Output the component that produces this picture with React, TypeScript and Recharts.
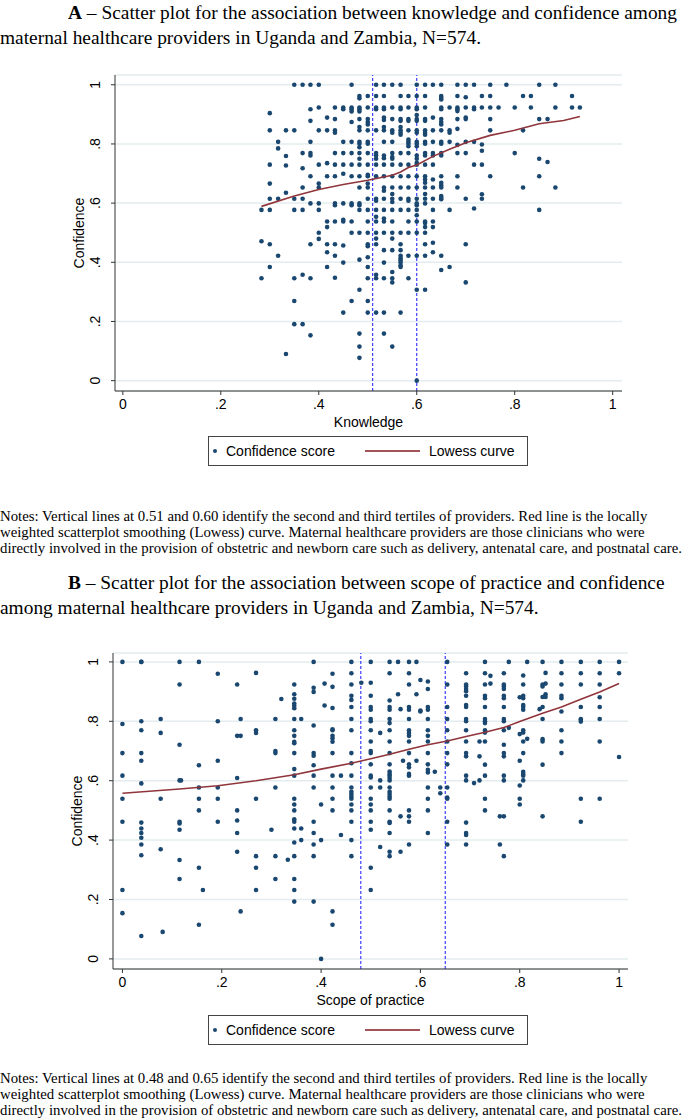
import React from "react";
import { ScatterChart, Scatter, XAxis, YAxis, CartesianGrid, ReferenceLine } from "recharts";

const axisTicks = [0, 0.2, 0.4, 0.6, 0.8, 1];

// Panel A: each entry is one knowledge score and the confidence scores plotted above it
const knowledgeColumns: [number, number[]][] = [
  [0.283, [0.577, 0.471, 0.346]],
  [0.3, [0.904, 0.846, 0.73, 0.666, 0.615, 0.577, 0.461, 0.384]],
  [0.317, [0.807, 0.785, 0.615, 0.422]],
  [0.333, [0.846, 0.759, 0.727, 0.635, 0.09]],
  [0.35, [1, 0.846, 0.615, 0.577, 0.346, 0.269, 0.191]],
  [0.367, [1, 0.769, 0.718, 0.653, 0.615, 0.577, 0.358, 0.191]],
  [0.383, [1, 0.917, 0.878, 0.807, 0.769, 0.761, 0.691, 0.599, 0.461, 0.346, 0.153]],
  [0.4, [1, 0.923, 0.846, 0.73, 0.666, 0.653, 0.599, 0.577, 0.5, 0.479]],
  [0.417, [0.889, 0.846, 0.735, 0.691, 0.538, 0.519, 0.461, 0.434, 0.384]],
  [0.433, [0.923, 0.884, 0.846, 0.838, 0.769, 0.73, 0.691, 0.599, 0.593, 0.538, 0.461, 0.422, 0.348]],
  [0.45, [0.923, 0.917, 0.807, 0.769, 0.73, 0.699, 0.599, 0.544, 0.538, 0.457, 0.399, 0.23]],
  [0.467, [1, 0.923, 0.917, 0.91, 0.874, 0.807, 0.769, 0.73, 0.691, 0.599, 0.593, 0.538, 0.5, 0.269]],
  [0.483, [0.962, 0.954, 0.923, 0.917, 0.91, 0.884, 0.857, 0.846, 0.807, 0.801, 0.789, 0.769, 0.75, 0.73, 0.691, 0.653, 0.599, 0.593, 0.577, 0.5, 0.409, 0.307, 0.159, 0.115, 0.077]],
  [0.5, [0.962, 0.923, 0.884, 0.874, 0.866, 0.846, 0.807, 0.801, 0.769, 0.73, 0.696, 0.691, 0.666, 0.653, 0.615, 0.577, 0.538, 0.5, 0.461, 0.454, 0.417, 0.384, 0.346, 0.269, 0.23]],
  [0.517, [1, 0.962, 0.923, 0.917, 0.846, 0.769, 0.761, 0.75, 0.73, 0.691, 0.615, 0.608, 0.577, 0.554, 0.538, 0.5, 0.48, 0.461, 0.358, 0.346, 0.23]],
  [0.533, [1, 0.962, 0.923, 0.917, 0.889, 0.881, 0.857, 0.846, 0.807, 0.761, 0.752, 0.73, 0.691, 0.653, 0.642, 0.615, 0.577, 0.548, 0.538, 0.5, 0.441, 0.399, 0.346, 0.23, 0.159]],
  [0.55, [1, 0.923, 0.884, 0.846, 0.838, 0.807, 0.769, 0.756, 0.75, 0.73, 0.691, 0.653, 0.631, 0.615, 0.604, 0.577, 0.538, 0.5, 0.48, 0.441, 0.367, 0.346, 0.332, 0.115]],
  [0.567, [1, 0.962, 0.923, 0.917, 0.884, 0.878, 0.857, 0.846, 0.838, 0.831, 0.769, 0.73, 0.691, 0.653, 0.615, 0.577, 0.5, 0.461, 0.441, 0.422, 0.414, 0.407, 0.399, 0.39, 0.384, 0.23]],
  [0.583, [0.962, 0.923, 0.884, 0.878, 0.846, 0.815, 0.807, 0.801, 0.792, 0.769, 0.73, 0.691, 0.653, 0.615, 0.608, 0.577, 0.538, 0.5, 0.422, 0.346]],
  [0.6, [1, 0.962, 0.923, 0.917, 0.898, 0.884, 0.878, 0.846, 0.838, 0.807, 0.801, 0.792, 0.761, 0.75, 0.736, 0.73, 0.691, 0.653, 0.615, 0.599, 0.593, 0.577, 0.559, 0.538, 0.5, 0.422, 0.307, 0]],
  [0.617, [1, 0.962, 0.923, 0.884, 0.878, 0.846, 0.838, 0.831, 0.807, 0.801, 0.769, 0.761, 0.73, 0.691, 0.68, 0.669, 0.653, 0.631, 0.615, 0.599, 0.538, 0.533, 0.519, 0.5, 0.461, 0.422, 0.307]],
  [0.633, [1, 0.889, 0.846, 0.807, 0.769, 0.761, 0.73, 0.68, 0.653, 0.615, 0.577, 0.538, 0.519, 0.466, 0.434]],
  [0.65, [1, 0.962, 0.956, 0.95, 0.923, 0.917, 0.884, 0.874, 0.866, 0.846, 0.807, 0.801, 0.769, 0.761, 0.691, 0.669, 0.66, 0.653, 0.624, 0.618, 0.613, 0.422, 0.374]],
  [0.667, [0.923, 0.846, 0.838, 0.807, 0.577, 0.384]],
  [0.683, [1, 0.962, 0.923, 0.917, 0.911, 0.884, 0.851, 0.797, 0.769, 0.691, 0.653]],
  [0.7, [1, 0.958, 0.923, 0.889, 0.884, 0.807, 0.769, 0.615, 0.461, 0.332]],
  [0.717, [1, 0.923, 0.917, 0.807, 0.73, 0.582]],
  [0.733, [0.962, 0.923, 0.798, 0.777, 0.73, 0.63, 0.615]],
  [0.75, [1, 0.962, 0.923, 0.884, 0.846, 0.691]],
  [0.767, [0.923]],
  [0.783, [1]],
  [0.8, [0.923, 0.769]],
  [0.817, [0.962, 0.846, 0.653]],
  [0.833, [0.962, 0.923]],
  [0.85, [1, 0.884, 0.75, 0.691, 0.577]],
  [0.867, [0.884, 0.739]],
  [0.883, [1, 0.923, 0.653]],
  [0.917, [0.962, 0.923]],
  [0.933, [0.923]],
];

const lowessKnowledge = [0.283, 0.35, 0.4, 0.45, 0.5, 0.55, 0.567, 0.583, 0.6, 0.633, 0.667, 0.7, 0.75, 0.8, 0.85, 0.9, 0.933];
const lowessConfidenceA = [0.589, 0.624, 0.646, 0.663, 0.677, 0.694, 0.705, 0.72, 0.729, 0.758, 0.782, 0.804, 0.829, 0.846, 0.868, 0.879, 0.893];
const tertilesA = [0.51, 0.6];

// Panel B: scope of practice columns
const scopeColumns: [number, number[]][] = [
  [0, [1, 0.791, 0.693, 0.617, 0.539, 0.462, 0.232, 0.154]],
  [0.038, [1, 1, 0.8, 0.77, 0.693, 0.667, 0.591, 0.459, 0.439, 0.424, 0.408, 0.385, 0.349, 0.077]],
  [0.077, [0.808, 0.761, 0.539, 0.369]],
  [0.081, [0.091]],
  [0.115, [1, 0.924, 0.721, 0.601, 0.462, 0.456, 0.435, 0.333, 0.269]],
  [0.118, [0.601]],
  [0.154, [1, 0.652, 0.577, 0.539, 0.5, 0.307, 0.115]],
  [0.162, [0.232]],
  [0.192, [0.96, 0.8, 0.667, 0.577, 0.539, 0.462]],
  [0.231, [0.924, 0.751, 0.609, 0.5, 0.466, 0.424, 0.361]],
  [0.238, [0.808, 0.751, 0.16]],
  [0.269, [0.963, 0.77, 0.761, 0.539, 0.346, 0.307, 0.232]],
  [0.3, [0.435]],
  [0.308, [0.808, 0.7, 0.693, 0.577, 0.346, 0.269]],
  [0.32, [0.875]],
  [0.333, [0.334]],
  [0.346, [0.924, 0.891, 0.876, 0.86, 0.852, 0.844, 0.808, 0.77, 0.751, 0.731, 0.726, 0.693, 0.639, 0.617, 0.539, 0.52, 0.5, 0.47, 0.462, 0.439, 0.392, 0.346, 0.269, 0.232, 0.193]],
  [0.36, [0.808, 0.439, 0.4]],
  [0.385, [1, 0.913, 0.899, 0.786, 0.693, 0.684, 0.652, 0.617, 0.577, 0.462, 0.424, 0.385, 0.346, 0.193]],
  [0.4, [0.52, 0.4, 0]],
  [0.407, [0.927, 0.853]],
  [0.423, [0.96, 0.916, 0.845, 0.773, 0.77, 0.751, 0.743, 0.731, 0.693, 0.617, 0.577, 0.539, 0.5, 0.16, 0.115]],
  [0.44, [0.617, 0.417]],
  [0.461, [1, 0.962, 0.924, 0.886, 0.872, 0.848, 0.808, 0.77, 0.693, 0.659, 0.617, 0.577, 0.563, 0.555, 0.547, 0.539, 0.52, 0.5, 0.462, 0.4, 0.346]],
  [0.481, [0.93]],
  [0.5, [1, 0.93, 0.886, 0.848, 0.839, 0.808, 0.8, 0.77, 0.732, 0.7, 0.693, 0.655, 0.617, 0.611, 0.577, 0.539, 0.52, 0.5, 0.462, 0.435, 0.307, 0.232]],
  [0.519, [0.761, 0.601, 0.577, 0.377]],
  [0.538, [1, 0.962, 0.87, 0.848, 0.839, 0.808, 0.794, 0.77, 0.732, 0.693, 0.655, 0.631, 0.623, 0.617, 0.609, 0.601, 0.577, 0.563, 0.555, 0.547, 0.539, 0.5, 0.462, 0.458, 0.424, 0.361, 0.346]],
  [0.555, [1, 0.891]],
  [0.56, [0.841, 0.48, 0.361]],
  [0.565, [0.667]],
  [0.577, [1, 0.962, 0.924, 0.848, 0.839, 0.808, 0.77, 0.761, 0.751, 0.732, 0.693, 0.655, 0.645, 0.623, 0.617, 0.5, 0.48, 0.462, 0.385]],
  [0.592, [1, 0.891, 0.667]],
  [0.6, [0.939, 0.836, 0.833]],
  [0.615, [0.934, 0.909, 0.848, 0.839, 0.808, 0.77, 0.751, 0.732, 0.693, 0.655, 0.637, 0.628, 0.577, 0.539, 0.5, 0.424]],
  [0.629, [0.63]],
  [0.64, [0.577, 0.558]],
  [0.654, [1, 0.924, 0.848, 0.808, 0.77, 0.732, 0.693, 0.655, 0.577, 0.543, 0.539, 0.462, 0.385]],
  [0.692, [0.962, 0.924, 0.917, 0.909, 0.901, 0.886, 0.855, 0.848, 0.808, 0.8, 0.77, 0.732, 0.693, 0.682, 0.617, 0.601, 0.459, 0.424, 0.417, 0.385]],
  [0.708, [0.592]],
  [0.719, [0.732, 0.682, 0.601]],
  [0.73, [1, 0.962, 0.924, 0.886, 0.878, 0.848, 0.808, 0.8, 0.794, 0.77, 0.762, 0.732, 0.654, 0.617, 0.539, 0.5]],
  [0.741, [0.953, 0.927]],
  [0.76, [0.48, 0.385]],
  [0.768, [0.962, 0.924, 0.917, 0.909, 0.886, 0.878, 0.848, 0.808, 0.8, 0.77, 0.721, 0.693, 0.682, 0.617, 0.601, 0.48, 0.346]],
  [0.778, [1, 0.778]],
  [0.8, [0.881, 0.757, 0.667, 0.584, 0.539, 0.52]],
  [0.807, [0.954, 0.924, 0.886, 0.878, 0.855, 0.848, 0.839, 0.77, 0.762, 0.732, 0.693, 0.63, 0.623, 0.617, 0.601]],
  [0.815, [1, 0.741]],
  [0.84, [0.841]],
  [0.846, [1, 0.924, 0.917, 0.882, 0.848, 0.808, 0.74, 0.732, 0.654, 0.48]],
  [0.852, [0.963, 0.927, 0.891, 0.882]],
  [0.884, [1, 0.962, 0.924, 0.886, 0.878, 0.833, 0.77, 0.732, 0.693]],
  [0.923, [1, 0.962, 0.924, 0.848, 0.808, 0.805, 0.799, 0.539, 0.462]],
  [0.961, [1, 0.962, 0.924, 0.881, 0.848, 0.808, 0.732, 0.539]],
  [1, [1, 0.962, 0.68]],
];

const lowessScope = [0, 0.115, 0.192, 0.269, 0.346, 0.4, 0.461, 0.5, 0.538, 0.577, 0.615, 0.654, 0.692, 0.73, 0.768, 0.8, 0.846, 0.884, 0.923, 0.961, 1];
const lowessConfidenceB = [0.558, 0.572, 0.583, 0.6, 0.62, 0.639, 0.659, 0.674, 0.689, 0.706, 0.721, 0.734, 0.749, 0.763, 0.779, 0.799, 0.827, 0.848, 0.874, 0.899, 0.927];
const tertilesB = [0.48, 0.65];

const NAVY = "#1a476f";
const MAROON = "#90353b";
const SANS = "'Liberation Sans', Arial, Helvetica, sans-serif";
const SERIF = "'Liberation Serif', 'Times New Roman', Times, serif";

const fmt = (v: number) => (v === 0 ? "0" : v === 1 ? "1" : String(v).replace(/^0/, ""));

const Dot = (p: any) => <circle cx={p.cx} cy={p.cy} r={2.3} fill={NAVY} />;
const NoDot = () => <g />;

const RotTick = (p: any) => (
  <text
    x={p.x}
    y={p.y}
    transform={`rotate(-90 ${p.x} ${p.y})`}
    textAnchor="middle"
    dy="0.36em"
    fontSize={14}
    fontFamily={SANS}
    fill="#000"
  >
    {fmt(p.payload.value)}
  </text>
);

type PanelProps = {
  columns: [number, number[]][];
  lowX: number[];
  lowY: number[];
  tertiles: number[];
  xLabel: string;
  xDomain: [number, number];
  yDomain: [number, number];
  margin: { top: number; right: number; bottom: number; left: number };
};

function Panel({ columns, lowX, lowY, tertiles, xLabel, xDomain, yDomain, margin }: PanelProps) {
  const points = columns.flatMap(([x, ys]) => ys.map((y) => ({ x, y })));
  const lowess = lowX.map((x, i) => ({ x, y: lowY[i] }));
  return (
    <ScatterChart width={685} height={380} margin={margin}>
      <CartesianGrid vertical={false} stroke="#e3ecef" strokeWidth={1.5} />
      <XAxis
        type="number"
        dataKey="x"
        domain={xDomain}
        allowDataOverflow
        ticks={axisTicks}
        tickFormatter={fmt}
        height={40}
        tickSize={4}
        tickMargin={4}
        stroke="#333"
        tick={{ fontSize: 14, fontFamily: SANS, fill: "#000" }}
        label={{ value: xLabel, position: "insideBottom", offset: 4, fontSize: 14, fontFamily: SANS, fill: "#000" }}
      />
      <YAxis
        type="number"
        dataKey="y"
        domain={yDomain}
        allowDataOverflow
        ticks={axisTicks}
        width={40}
        tickSize={4}
        tickMargin={16}
        stroke="#333"
        tick={<RotTick />}
        label={{
          value: "Confidence",
          angle: -90,
          position: "insideLeft",
          offset: 4,
          fontSize: 14,
          fontFamily: SANS,
          fill: "#000",
          style: { textAnchor: "middle" },
        }}
      />
      {tertiles.map((t) => (
        <ReferenceLine key={t} x={t} stroke="#2b2bff" strokeWidth={1.1} strokeDasharray="3 2" />
      ))}
      <Scatter data={points} shape={Dot} isAnimationActive={false} />
      <Scatter
        data={lowess}
        shape={NoDot}
        line={{ stroke: MAROON, strokeWidth: 1.6 }}
        isAnimationActive={false}
      />
    </ScatterChart>
  );
}

function LegendBox({ left, top }: { left: number; top: number }) {
  return (
    <div
      style={{
        position: "absolute",
        left,
        top,
        width: 320,
        height: 30,
        border: "1px solid #444",
        background: "#fff",
        fontFamily: SANS,
        fontSize: 14,
        boxSizing: "border-box",
      }}
    >
      <div style={{ position: "absolute", left: 4, top: 12, width: 4, height: 4, borderRadius: 2, background: NAVY }} />
      <div style={{ position: "absolute", left: 17, top: 6, lineHeight: "16px" }}>Confidence score</div>
      <div style={{ position: "absolute", left: 156, top: 13, width: 55, height: 2, background: MAROON, opacity: 0.85 }} />
      <div style={{ position: "absolute", left: 220, top: 6, lineHeight: "16px" }}>Lowess curve</div>
    </div>
  );
}

const lineStyle: React.CSSProperties = { whiteSpace: "nowrap" };

export default function App() {
  return (
    <div style={{ position: "relative", width: 685, height: 1120, background: "#fff", overflow: "hidden", fontFamily: SERIF }}>
      <style>{"body{margin:0}"}</style>

      <div style={{ position: "absolute", left: 0, top: 0, fontSize: 19.4, lineHeight: "25px" }}>
        <div style={{ ...lineStyle, paddingLeft: 68 }}>
          <b>A</b> – Scatter plot for the association between knowledge and confidence among
        </div>
        <div style={lineStyle}>maternal healthcare providers in Uganda and Zambia, N=574.</div>
      </div>

      <div style={{ position: "absolute", left: 0, top: 60 }}>
        <Panel
          columns={knowledgeColumns}
          lowX={lowessKnowledge}
          lowY={lowessConfidenceA}
          tertiles={tertilesA}
          xLabel="Knowledge"
          xDomain={[-0.016, 1.019]}
          yDomain={[-0.035, 1.033]}
          margin={{ top: 15, right: 63, bottom: 9, left: 75 }}
        />
      </div>
      <LegendBox left={208} top={436} />

      <div style={{ position: "absolute", left: 0, top: 508, fontSize: 14.8, lineHeight: "16px" }}>
        <div style={lineStyle}>
          Notes: Vertical lines at 0.51 and 0.60 identify the second and third tertiles of providers. Red line is the locally
        </div>
        <div style={lineStyle}>
          weighted scatterplot smoothing (Lowess) curve. Maternal healthcare providers are those clinicians who were
        </div>
        <div style={lineStyle}>
          directly involved in the provision of obstetric and newborn care such as delivery, antenatal care, and postnatal care.
        </div>
      </div>

      <div style={{ position: "absolute", left: 0, top: 570, fontSize: 19.4, lineHeight: "25px" }}>
        <div style={{ ...lineStyle, paddingLeft: 68 }}>
          <b>B</b> – Scatter plot for the association between scope of practice and confidence
        </div>
        <div style={lineStyle}>among maternal healthcare providers in Uganda and Zambia, N=574.</div>
      </div>

      <div style={{ position: "absolute", left: 0, top: 640 }}>
        <Panel
          columns={scopeColumns}
          lowX={lowessScope}
          lowY={lowessConfidenceB}
          tertiles={tertilesB}
          xLabel="Scope of practice"
          xDomain={[-0.019, 1.018]}
          yDomain={[-0.034, 1.03]}
          margin={{ top: 13, right: 57, bottom: 11, left: 73 }}
        />
      </div>
      <LegendBox left={208} top={1015} />

      <div style={{ position: "absolute", left: 0, top: 1070, fontSize: 14.8, lineHeight: "16px" }}>
        <div style={lineStyle}>
          Notes: Vertical lines at 0.48 and 0.65 identify the second and third tertiles of providers. Red line is the locally
        </div>
        <div style={lineStyle}>
          weighted scatterplot smoothing (Lowess) curve. Maternal healthcare providers are those clinicians who were
        </div>
        <div style={lineStyle}>
          directly involved in the provision of obstetric and newborn care such as delivery, antenatal care, and postnatal care.
        </div>
      </div>
    </div>
  );
}
